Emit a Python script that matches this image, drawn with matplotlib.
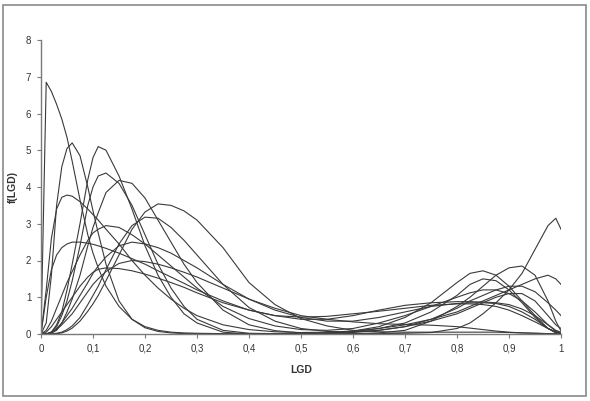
import matplotlib
matplotlib.use('Agg')
import matplotlib.pyplot as plt
from matplotlib.patches import Rectangle

plt.rcParams['font.family'] = ['Liberation Sans', 'DejaVu Sans']

# LGD grid (read positions)
lgd = [0, 0.01, 0.02, 0.03, 0.04, 0.05, 0.06, 0.075, 0.09, 0.1, 0.11, 0.125,
       0.15, 0.175, 0.2, 0.225, 0.25, 0.275, 0.3, 0.35, 0.4, 0.45, 0.5, 0.55,
       0.6, 0.65, 0.7, 0.75, 0.8, 0.825, 0.85, 0.875, 0.9, 0.925, 0.95, 0.975,
       0.99, 1.0]

# densities (left part 0..0.3, right part 0.35..1)
dens_a = [0, 6.85, 6.6, 6.25, 5.85, 5.35, 4.7, 3.65, 2.7, 2.2, 1.8, 1.3, 0.75, 0.4, 0.2, 0.1, 0.05, 0.03, 0.02,
          0.01, 0.01, 0, 0, 0, 0.01, 0.01, 0.02, 0.04, 0.15, 0.3, 0.55, 0.85, 1.2, 1.65, 2.3, 2.95, 3.15, 2.85]
dens_b = [0, 0.3, 1.6, 3.5, 4.55, 5.05, 5.2, 4.85, 4.0, 3.35, 2.75, 1.9, 0.9, 0.4, 0.17, 0.07, 0.03, 0.01, 0.01,
          0, 0, 0, 0, 0, 0.01, 0.03, 0.1, 0.35, 0.75, 1.0, 1.3, 1.6, 1.8, 1.85, 1.6, 0.9, 0.35, 0.08]
dens_c = [0, 0, 0.05, 0.25, 0.6, 1.2, 1.9, 3.0, 4.2, 4.8, 5.1, 5.0, 4.3, 3.4, 2.4, 1.6, 1.0, 0.55, 0.3,
          0.05, 0, 0, 0.01, 0.03, 0.08, 0.2, 0.45, 0.85, 1.4, 1.65, 1.72, 1.6, 1.3, 0.9, 0.5, 0.15, 0.03, 0]
dens_d = [0, 0, 0.05, 0.2, 0.5, 0.9, 1.45, 2.4, 3.5, 4.0, 4.3, 4.38, 4.1, 3.5, 2.7, 1.9, 1.25, 0.75, 0.4,
          0.1, 0.02, 0.01, 0.01, 0.02, 0.06, 0.15, 0.3, 0.6, 1.05, 1.35, 1.5, 1.45, 1.2, 0.85, 0.45, 0.15, 0.04, 0.01]
dens_e = [0, 0, 0.02, 0.1, 0.3, 0.6, 0.95, 1.6, 2.4, 2.9, 3.3, 3.85, 4.18, 4.1, 3.7, 3.1, 2.5, 1.9, 1.4,
          0.65, 0.25, 0.09, 0.03, 0.02, 0.04, 0.1, 0.2, 0.4, 0.7, 0.9, 1.05, 1.2, 1.3, 1.3, 1.15, 0.85, 0.65, 0.5]
dens_f = [0, 1.2, 2.6, 3.4, 3.72, 3.78, 3.75, 3.6, 3.4, 3.25, 3.1, 2.85, 2.45, 2.0, 1.6, 1.25, 0.95, 0.7, 0.5,
          0.25, 0.12, 0.06, 0.04, 0.05, 0.08, 0.15, 0.25, 0.4, 0.6, 0.75, 0.9, 1.05, 1.2, 1.35, 1.5, 1.6, 1.5, 1.35]
dens_g = [0, 0, 0, 0.01, 0.03, 0.08, 0.16, 0.35, 0.62, 0.82, 1.05, 1.45, 2.15, 2.85, 3.32, 3.54, 3.5, 3.35, 3.1,
          2.35, 1.4, 0.8, 0.42, 0.22, 0.1, 0.06, 0.05, 0.05, 0.05, 0.05, 0.05, 0.05, 0.04, 0.03, 0.02, 0.01, 0.01, 0]
dens_h = [0, 0, 0, 0.02, 0.05, 0.12, 0.22, 0.45, 0.8, 1.05, 1.3, 1.75, 2.45, 2.95, 3.18, 3.15, 2.9, 2.55, 2.15,
          1.35, 0.72, 0.35, 0.15, 0.07, 0.06, 0.1, 0.2, 0.35, 0.55, 0.7, 0.85, 1.0, 1.1, 1.1, 0.9, 0.5, 0.25, 0.15]
dens_i = [0, 0.1, 0.35, 0.7, 1.05, 1.4, 1.7, 2.15, 2.55, 2.75, 2.85, 2.95, 2.9, 2.7, 2.45, 2.15, 1.85, 1.55, 1.25,
          0.75, 0.42, 0.22, 0.12, 0.1, 0.15, 0.3, 0.5, 0.75, 1.0, 1.12, 1.2, 1.2, 1.1, 0.9, 0.6, 0.25, 0.08, 0.02]
dens_j = [0, 1.0, 1.75, 2.15, 2.35, 2.45, 2.5, 2.5, 2.47, 2.44, 2.4, 2.33, 2.2, 2.05, 1.9, 1.72, 1.55, 1.38, 1.2,
          0.9, 0.65, 0.5, 0.4, 0.4, 0.5, 0.65, 0.78, 0.85, 0.88, 0.88, 0.87, 0.85, 0.8, 0.68, 0.5, 0.25, 0.1, 0.05]
dens_k = [0, 0, 0.05, 0.15, 0.3, 0.5, 0.7, 1.05, 1.4, 1.65, 1.85, 2.1, 2.4, 2.5, 2.45, 2.35, 2.2, 2.0, 1.8,
          1.35, 0.95, 0.65, 0.45, 0.35, 0.35, 0.45, 0.6, 0.75, 0.83, 0.85, 0.85, 0.83, 0.75, 0.6, 0.4, 0.15, 0.05, 0.01]
dens_l = [0, 0, 0.05, 0.12, 0.25, 0.4, 0.55, 0.85, 1.15, 1.35, 1.5, 1.7, 1.92, 2.0, 1.97, 1.9, 1.8, 1.68, 1.55,
          1.25, 0.95, 0.7, 0.5, 0.4, 0.33, 0.28, 0.26, 0.24, 0.2, 0.16, 0.12, 0.08, 0.05, 0.03, 0.02, 0.01, 0, 0]
dens_m = [0, 0.05, 0.2, 0.4, 0.6, 0.8, 1.0, 1.3, 1.55, 1.68, 1.76, 1.8, 1.78, 1.72, 1.63, 1.52, 1.4, 1.27, 1.12,
          0.85, 0.65, 0.5, 0.46, 0.48, 0.55, 0.62, 0.7, 0.78, 0.82, 0.82, 0.8, 0.75, 0.65, 0.5, 0.33, 0.15, 0.06, 0.02]

curves = [dens_a, dens_b, dens_c, dens_d, dens_e, dens_f, dens_g,
          dens_h, dens_i, dens_j, dens_k, dens_l, dens_m]

xticks = [0, 0.1, 0.2, 0.3, 0.4, 0.5, 0.6, 0.7, 0.8, 0.9, 1]
xlabels = ['0', '0,1', '0,2', '0,3', '0,4', '0,5', '0,6', '0,7', '0,8', '0,9', '1']
yticks = [0, 1, 2, 3, 4, 5, 6, 7, 8]

fig = plt.figure(figsize=(5.9, 4.01), dpi=100)
ax = fig.add_axes([41 / 590, 67 / 401, 520 / 590, 294 / 401])

for dens in curves:
    ax.plot(lgd, dens, color='#3a3a3a', lw=0.8)

ax.set_xlim(0, 1)
ax.set_ylim(0, 8)
ax.set_xticks(xticks)
ax.set_xticklabels(xlabels)
ax.set_yticks(yticks)
for s in ['top', 'right']:
    ax.spines[s].set_visible(False)
for s in ['left', 'bottom']:
    ax.spines[s].set_color('#7a7a7a')
    ax.spines[s].set_linewidth(1.0)
ax.tick_params(direction='out', length=3, width=0.8, color='#7a7a7a',
               labelsize=7, labelcolor='#333333', pad=4)
ax.set_xlabel('LGD', fontsize=7.5, fontweight='bold', color='#333333')
ax.set_ylabel('f(LGD)', fontsize=7.5, fontweight='bold', color='#333333')
ax.xaxis.set_label_coords(0.5, -31 / 294)
ax.yaxis.set_label_coords(-23 / 520, 0.5)

# outer frame
fig.add_artist(Rectangle((3 / 590, 5 / 401), 583 / 590, 391 / 401,
                         transform=fig.transFigure, fill=False, ec='#8a8a8a', lw=1.2))

fig.savefig('out.png', dpi=100)
